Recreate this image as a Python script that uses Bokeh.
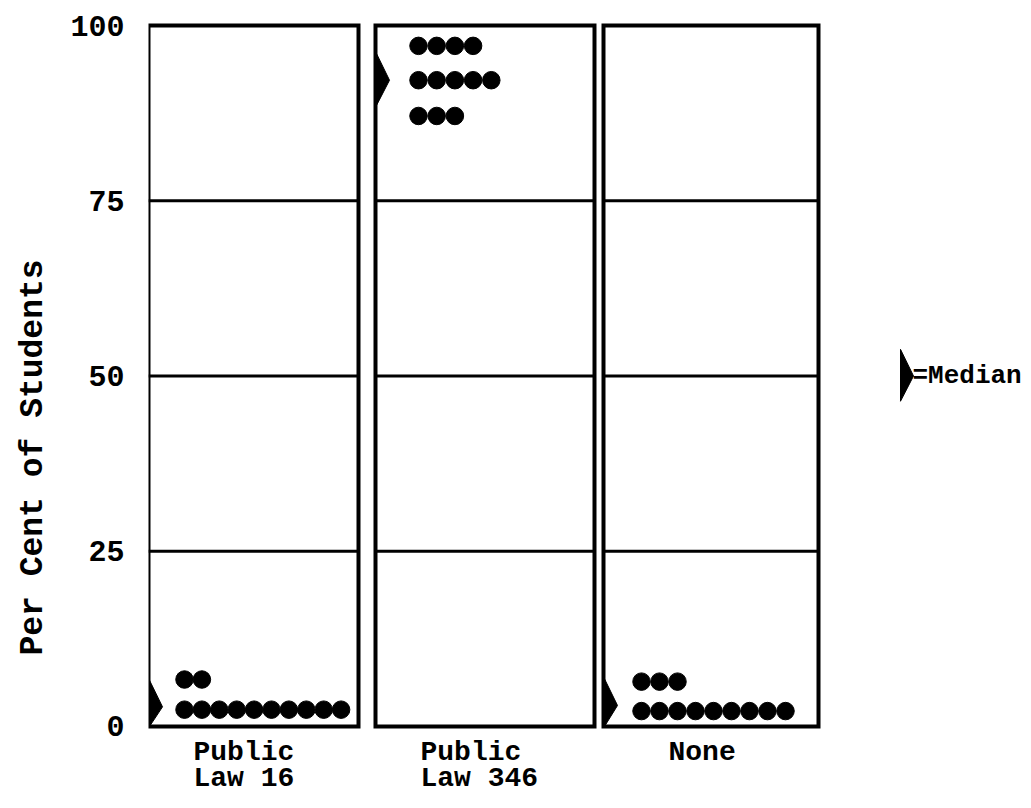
from bokeh.plotting import figure
from bokeh.models import Range1d, FixedTicker, Title
from bokeh.core.properties import value
from bokeh.embed import file_html
from bokeh.resources import INLINE

# ---- data ----
categories_line1 = ["Public", "Public", "None"]
categories_line2 = ["Law 16", "Law 346", ""]
y_ticks = [0, 25, 50, 75, 100]
gridlines = [25, 50, 75]

# rows of dots: per cent level of each row and number of dots in it
p16_rows = [2.4, 6.7]
p16_counts = [10, 2]
p346_rows = [87.1, 92.2, 97.1]
p346_counts = [3, 5, 4]
none_rows = [2.2, 6.4]
none_counts = [9, 3]
medians = [2.8, 92.2, 3.0]

# ---- layout (pixels in frame units) ----
panel_left = [0, 227, 455]
panel_right = [210, 446, 670]
dot_start = [36, 43, 38]
dot_step = [17.4, 18.2, 18.0]
label_offset = [45, 45, 65]
FONT = "Liberation Mono"

p = figure(width=1031, height=808, output_backend="svg", toolbar_location=None,
           x_range=Range1d(0, 883), y_range=Range1d(-11.7, 102.43),
           x_axis_location=None, min_border_left=148, min_border_right=0,
           min_border_top=8, min_border_bottom=0)
p.outline_line_color = None
p.xgrid.visible = False
p.ygrid.visible = False

ax = p.yaxis[0]
ax.ticker = FixedTicker(ticks=y_ticks)
ax.axis_line_color = None
ax.major_tick_line_color = None
ax.minor_tick_line_color = None
ax.major_label_standoff = 18
ax.major_label_text_font = FONT
ax.major_label_text_font_style = "bold"
ax.major_label_text_font_size = "30px"
ax.major_label_text_color = "black"

# y axis title
p.add_layout(Title(text="Per Cent of Students", align="left", offset=153,
                   vertical_align="top", standoff=28,
                   text_font=FONT, text_font_style="bold", text_font_size="33px",
                   text_color="black"), "left")

# panels
p.quad(left=panel_left, right=panel_right, bottom=[0] * 3, top=[100] * 3,
       fill_color=None, line_color="black", line_width=4, line_join="miter")
for i in range(3):
    p.segment(x0=[panel_left[i]] * len(gridlines), x1=[panel_right[i]] * len(gridlines),
              y0=gridlines, y1=gridlines, line_color="black", line_width=3.2)

# dots
all_rows = [p16_rows, p346_rows, none_rows]
all_counts = [p16_counts, p346_counts, none_counts]
xs, ys = [], []
for i in range(3):
    for r, c in zip(all_rows[i], all_counts[i]):
        for k in range(c):
            xs.append(panel_left[i] + dot_start[i] + k * dot_step[i])
            ys.append(r)
p.scatter(xs, ys, size=17.5, color="black", marker="circle")

# median markers
def med_patch(x0, ym):
    top = ym + 3.8
    bot = max(ym - 3.6, 0)
    return [x0, x0 + 13, x0, x0], [top, ym, bot, top]

mx, my = [], []
for i in range(3):
    a, b = med_patch(panel_left[i] + 1, medians[i])
    mx.append(a)
    my.append(b)
# legend marker
a, b = med_patch(752, 50)
mx.append(a)
my.append(b)
p.patches(mx, my, fill_color="black", line_color="black", line_width=1)

p.text(x=[764], y=[50], text=["=Median"], text_font=value(FONT), text_font_style="bold",
       text_font_size="26px", text_baseline="middle", text_align="left", text_color="black")

# category labels
lx = [panel_left[i] + label_offset[i] for i in range(3)]
p.text(x=lx, y=[-3.7] * 3, text=categories_line1, text_font=value(FONT), text_font_style="bold",
       text_font_size="28px", text_baseline="middle", text_align="left", text_color="black")
p.text(x=lx, y=[-7.4] * 3, text=categories_line2, text_font=value(FONT), text_font_style="bold",
       text_font_size="28px", text_baseline="middle", text_align="left", text_color="black")

open("out.html", "w").write(file_html(p, INLINE))
